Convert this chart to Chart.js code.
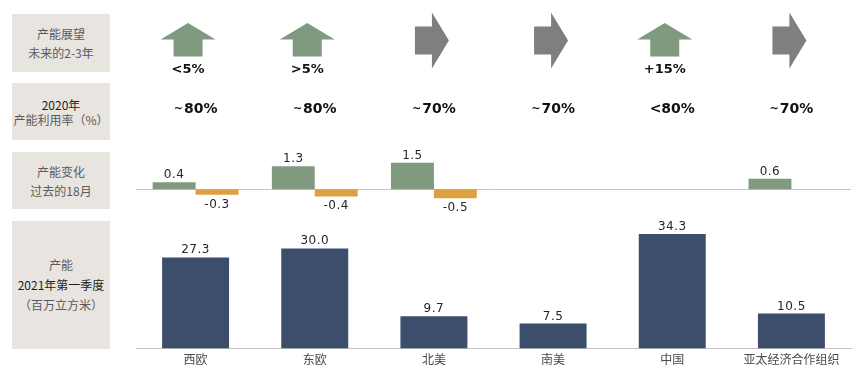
<!DOCTYPE html>
<html><head><meta charset="utf-8">
<script src="https://cdn.jsdelivr.net/npm/chart.js@4.4.1/dist/chart.umd.min.js"></script>
<style>
html,body{margin:0;padding:0;background:#fff;}
body{width:868px;height:371px;overflow:hidden;position:relative;font-family:"Noto Sans CJK SC","DejaVu Sans",sans-serif;}
.box{position:absolute;left:12px;width:98px;background:#E8E5E0;color:#5a5a5a;font-size:12px;display:flex;flex-direction:column;justify-content:center;align-items:center;text-align:center;white-space:nowrap;}
.box .dk{color:#1e1e1e;}
.cv{position:absolute;left:0;}
</style>
</head><body>
<div class="box" style="top:14px;height:58px;line-height:19px;"><div>产能展望</div><div>未来的2-3年</div></div>
<div class="box" style="top:83px;height:57px;line-height:15px;"><div class="dk">2020年</div><div>产能利用率（%）</div></div>
<div class="box" style="top:152px;height:57px;line-height:19px;"><div>产能变化</div><div>过去的18月</div></div>
<div class="box" style="top:221px;height:128px;line-height:20px;"><div>产能</div><div class="dk">2021年第一季度</div><div>（百万立方米）</div></div>

<canvas id="c1" class="cv" width="868" height="145" style="top:0px"></canvas>
<canvas id="c2" class="cv" width="868" height="70" style="top:145px"></canvas>
<canvas id="c3" class="cv" width="868" height="156" style="top:215px"></canvas>

<script>
// ---- data ----
const regions = ['西欧','东欧','北美','南美','中国','亚太经济合作组织'];
const outlookDirection = ['up','up','right','right','up','right'];
const outlookLabels = ['<5%','>5%','','','+15%',''];
const utilization2020 = ['~80%','~80%','~70%','~70%','<80%','~70%'];
const changeIncrease = [0.4, 1.3, 1.5, null, null, 0.6];
const changeDecrease = [-0.3, -0.4, -0.5, null, null, null];
const capacity2021Q1 = [27.3, 30.0, 9.7, 7.5, 34.3, 10.5];

// ---- styles ----
const GREEN = '#7F9A7F', ORANGE = '#DFA03F', NAVY = '#3D4E6D', GREYARROW = '#7F7F7F';
const PAD = {left:136, right:17};

const valueLabels = {
  id:'valueLabels',
  afterDatasetsDraw(chart){
    const ctx = chart.ctx;
    ctx.save();
    ctx.font = '12px "DejaVu Sans"';
    ctx.fillStyle = '#262626';
    ctx.textAlign = 'center';
    ctx.textBaseline = 'alphabetic';
    try { ctx.letterSpacing = '0.5px'; } catch(e){}
    chart.data.datasets.forEach((ds, di) => {
      const meta = chart.getDatasetMeta(di);
      meta.data.forEach((el, i) => {
        const v = ds.data[i];
        if (v === null || v === undefined) return;
        const txt = v.toFixed(1);
        if (v >= 0) ctx.fillText(txt, el.x, el.y - 4);
        else ctx.fillText(txt, el.x, el.y + 13);
      });
    });
    ctx.restore();
  }
};

const zeroLine = {
  id:'zeroLine',
  beforeDatasetsDraw(chart){
    const ctx = chart.ctx, y = chart.scales.y.getPixelForValue(0), a = chart.chartArea;
    ctx.save();
    ctx.strokeStyle = '#C4C4C4'; ctx.lineWidth = 1;
    ctx.beginPath(); ctx.moveTo(a.left, Math.round(y)+0.5); ctx.lineTo(a.right, Math.round(y)+0.5); ctx.stroke();
    ctx.restore();
  }
};

function drawPct(ctx, s, x, y){
  ctx.textBaseline = 'middle';
  const big = 'bold 14px "DejaVu Sans"', small = 'bold 11px "DejaVu Sans"';
  let head = '', rest = s;
  if (s[0] === '~') { head = '~'; rest = s.slice(1); }
  ctx.font = small; const wh = head ? ctx.measureText(head).width + 1 : 0;
  ctx.font = big; const wr = ctx.measureText(rest).width;
  let x0 = x - (wh + wr) / 2;
  ctx.textAlign = 'left';
  if (head) { ctx.font = small; ctx.fillText(head, x0, y); x0 += wh; }
  ctx.font = big; ctx.fillText(rest, x0, y);
}

const topRows = {
  id:'topRows',
  afterDraw(chart){
    const ctx = chart.ctx, xs = chart.scales.x;
    ctx.save();
    regions.forEach((r, i) => {
      const c = xs.getPixelForValue(i);
      if (outlookDirection[i] === 'up') {
        const cx = c - 7.5;
        ctx.fillStyle = GREEN;
        ctx.beginPath();
        ctx.moveTo(cx, 23);
        ctx.lineTo(cx + 27.5, 39.5);
        ctx.lineTo(cx + 14.5, 39.5);
        ctx.lineTo(cx + 14.5, 56.5);
        ctx.lineTo(cx - 14.5, 56.5);
        ctx.lineTo(cx - 14.5, 39.5);
        ctx.lineTo(cx - 27.5, 39.5);
        ctx.closePath(); ctx.fill();
        if (outlookLabels[i]) {
          ctx.fillStyle = '#111';
          ctx.font = 'bold 13px "DejaVu Sans"';
          ctx.textAlign = 'center'; ctx.textBaseline = 'middle';
          ctx.fillText(outlookLabels[i], cx, 69.5);
        }
      } else {
        const cx = c - 2;
        ctx.fillStyle = GREYARROW;
        ctx.beginPath();
        ctx.moveTo(cx - 17, 26.5);
        ctx.lineTo(cx, 26.5);
        ctx.lineTo(cx, 12.5);
        ctx.lineTo(cx + 17, 40.5);
        ctx.lineTo(cx, 68.5);
        ctx.lineTo(cx, 54.5);
        ctx.lineTo(cx - 17, 54.5);
        ctx.closePath(); ctx.fill();
      }
      ctx.fillStyle = '#111';
      drawPct(ctx, utilization2020[i], c, 109);
    });
    ctx.restore();
  }
};

Chart.defaults.animation = false;
Chart.defaults.responsive = false;
Chart.defaults.devicePixelRatio = 1;
Chart.defaults.plugins.legend.display = false;
Chart.defaults.plugins.tooltip.enabled = false;

new Chart(document.getElementById('c1'), {
  type:'bar',
  data:{labels:regions, datasets:[{data:regions.map(()=>null)}]},
  options:{
    layout:{padding:{left:PAD.left,right:PAD.right,top:0,bottom:0}},
    scales:{x:{display:false},y:{display:false}}
  },
  plugins:[topRows]
});

new Chart(document.getElementById('c2'), {
  type:'bar',
  data:{labels:regions, datasets:[
    {data:changeIncrease, backgroundColor:GREEN, categoryPercentage:0.72, barPercentage:1.0},
    {data:changeDecrease, backgroundColor:ORANGE, categoryPercentage:0.72, barPercentage:1.0}
  ]},
  options:{
    layout:{padding:{left:PAD.left,right:PAD.right,top:9,bottom:8}},
    scales:{x:{display:false},y:{display:false,min:-1,max:2}}
  },
  plugins:[zeroLine, valueLabels]
});

new Chart(document.getElementById('c3'), {
  type:'bar',
  data:{labels:regions, datasets:[
    {data:capacity2021Q1, backgroundColor:NAVY, categoryPercentage:0.562, barPercentage:1.0}
  ]},
  options:{
    layout:{padding:{left:PAD.left,right:PAD.right,top:0,bottom:0}},
    scales:{
      x:{grid:{display:false,drawTicks:false},border:{display:true,color:'#C4C4C4'},
         ticks:{padding:4,color:'#4a4a4a',font:{family:'"Noto Sans CJK SC"',size:12}}},
      y:{display:false,min:0,max:40}
    }
  },
  plugins:[valueLabels]
});
</script>
</body></html>
